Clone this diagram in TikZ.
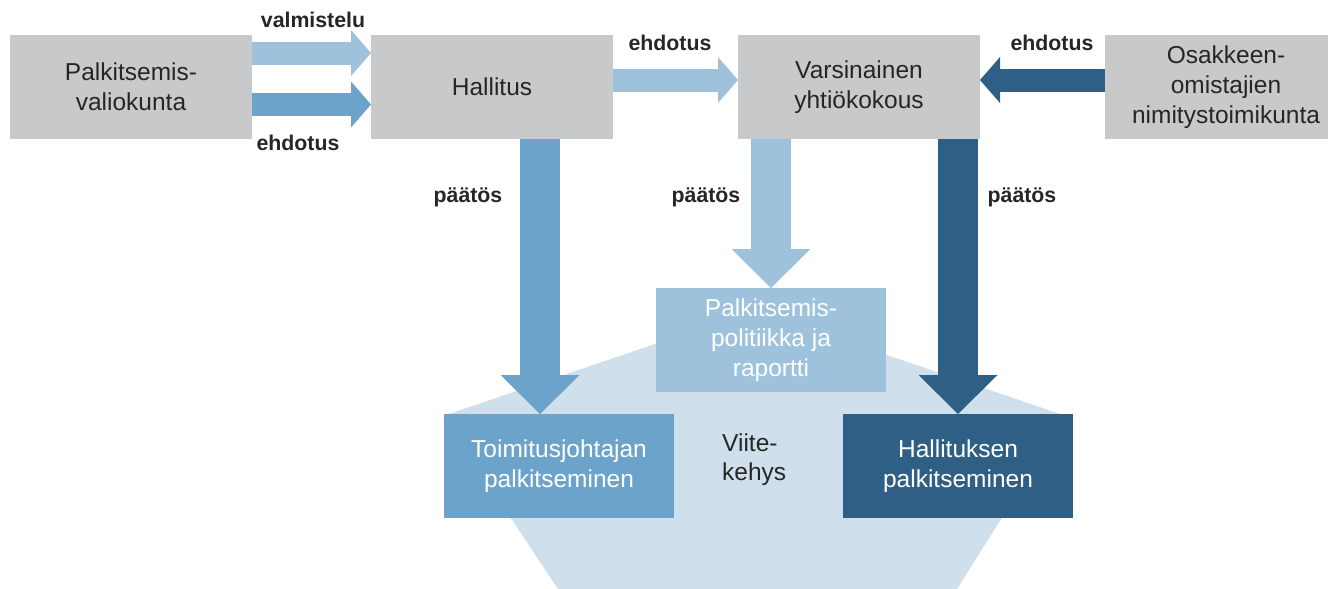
\documentclass[tikz,border=0pt]{standalone}
\usepackage{fontspec}
\setmainfont{Liberation Sans}
\usetikzlibrary{arrows.meta}
\definecolor{boxgray}{RGB}{200,201,203}
\definecolor{lblue}{RGB}{159,194,220}
\definecolor{mblue}{RGB}{108,163,202}
\definecolor{dblue}{RGB}{47,95,133}
\definecolor{framefill}{RGB}{207,224,236}
\definecolor{ink}{RGB}{38,38,35}
\begin{document}
\begin{tikzpicture}[x=1pt,y=-1pt,
  box/.style={rectangle, minimum width=242pt, minimum height=104pt, inner sep=0pt, outer sep=0pt, align=center, font=\fontsize{24.5}{30}\selectfont},
  graybox/.style={box, fill=boxgray, text=ink},
  lowbox/.style={box, minimum width=230pt, text=white},
  lbl/.style={font=\bfseries\fontsize{21.3}{24}\selectfont, text=ink, inner sep=0pt},
  harrow/.style={line width=23pt, -{Triangle[width=46pt,length=20pt,line width=0pt]}},
  varrow/.style={line width=40pt, -{Triangle[width=79pt,length=39pt,line width=0pt]}},
]
\useasboundingbox (0,0) rectangle (1328,589);
\fill[framefill] (755,310) -- (1066,416) -- (957,589) -- (558,589) -- (443,416) -- cycle;

\begin{scope}
\clip (0,0) rectangle (1328,589);
\node[graybox] (pv) at (131,87) {Palkitsemis-\\valiokunta};
\node[graybox] (hal) at (492,87) {Hallitus};
\node[graybox] (vy) at (859,87) {Varsinainen\\yhtiökokous};
\node[graybox] (onk) at (1226,87) {Osakkeen-\\omistajien\\nimitystoimikunta};
\end{scope}

\node[lowbox, fill=lblue] (pol) at (771,340) {Palkitsemis-\\politiikka ja\\raportti};
\node[lowbox, fill=mblue] (tj) at (559,466) {Toimitusjohtajan\\palkitseminen};
\node[lowbox, fill=dblue] (hk) at (958,466) {Hallituksen\\palkitseminen};
\node[anchor=west, align=left, inner sep=0pt, font=\fontsize{24.5}{29}\selectfont, text=ink] (vk) at (722,460) {Viite-\\kehys};

\draw[harrow, lblue] ([yshift=34pt]pv.east) -- ([yshift=34pt]hal.west);
\draw[harrow, mblue] ([yshift=-17.5pt]pv.east) -- ([yshift=-17.5pt]hal.west);
\draw[harrow, lblue] ([yshift=7pt]hal.east) -- ([yshift=7pt]vy.west);
\draw[harrow, dblue] ([yshift=7pt]onk.west) -- ([yshift=7pt]vy.east);
\coordinate (hs) at ([xshift=48pt]hal.south);
\draw[varrow, mblue] (hs) -- (hs |- tj.north);
\draw[varrow, lblue] (vy.south -| pol.north) -- (pol.north);
\draw[varrow, dblue] (vy.south -| hk.north) -- (hk.north);

\node[lbl] (l1) at (313,20) {valmistelu};
\node[lbl] (l2) at (298,143) {ehdotus};
\node[lbl] (l3) at (670,43) {ehdotus};
\node[lbl] (l4) at (1052,43) {ehdotus};
\node[lbl] (l5) at (468,197) {päätös};
\node[lbl] (l6) at (706,197) {päätös};
\node[lbl] (l7) at (1022,197) {päätös};
\end{tikzpicture}
\end{document}
